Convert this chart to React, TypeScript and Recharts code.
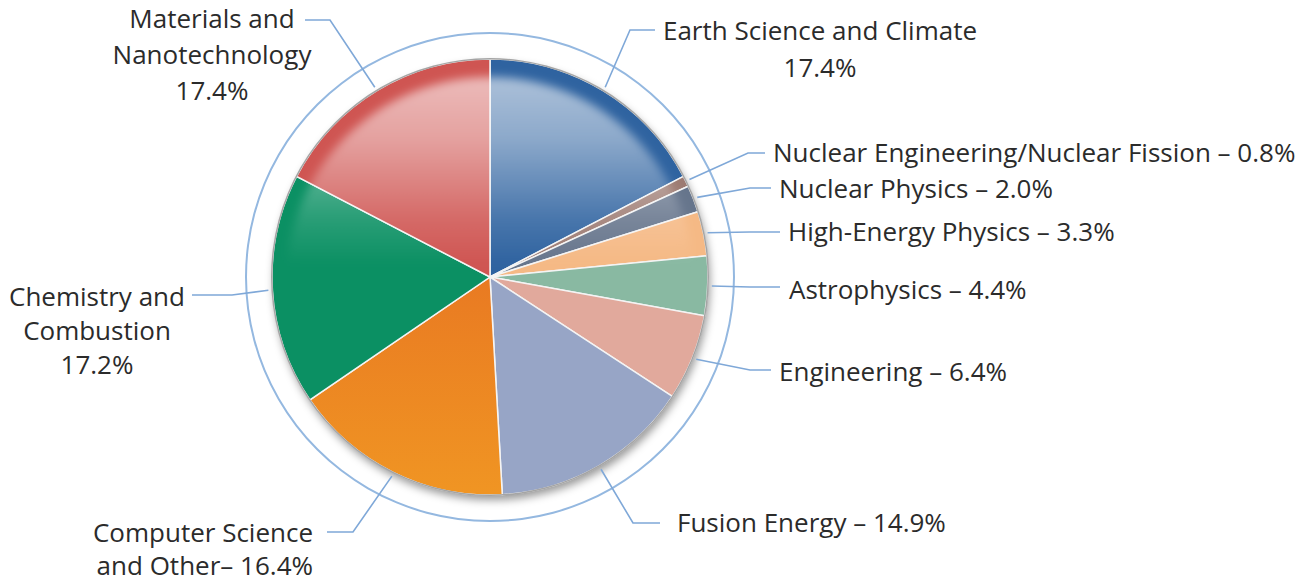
import React from "react";
import { PieChart, Pie, Cell } from "recharts";

// shares of allocation, clockwise from 12 o'clock
const names = [
  "Earth Science and Climate",
  "Nuclear Engineering/Nuclear Fission",
  "Nuclear Physics",
  "High-Energy Physics",
  "Astrophysics",
  "Engineering",
  "Fusion Energy",
  "Computer Science and Other",
  "Chemistry and Combustion",
  "Materials and Nanotechnology",
];
const shares = [17.4, 0.8, 2.0, 3.3, 4.4, 6.4, 14.9, 16.4, 17.2, 17.4];
const labelText: string[][] = [
  ["Earth Science and Climate", "17.4%"],
  ["Nuclear Engineering/Nuclear Fission – 0.8%"],
  ["Nuclear Physics – 2.0%"],
  ["High-Energy Physics – 3.3%"],
  ["Astrophysics – 4.4%"],
  ["Engineering – 6.4%"],
  ["Fusion Energy – 14.9%"],
  ["Computer Science", "and Other– 16.4%"],
  ["Chemistry and", "Combustion", "17.2%"],
  ["Materials and", "Nanotechnology", "17.4%"],
];

const COLORS = [
  "#2f63a0", "#9d7b72", "#66758c", "#f5b985", "#89b9a2",
  "#e1a99c", "#97a5c6", "url(#orangeGrad)", "#0b9063", "#cf5552",
];

// label placement, offsets from pie centre: elbow, end of the flat part, text anchor
const labelPos = [
  { ex: 140, ey: -247, hx: 165, tx: 330, ty: -247, dy: 37, anchor: "middle" },
  { ex: 258, ey: -124, hx: 275, tx: 283, ty: -125, dy: 35, anchor: "start" },
  { ex: 260, ey: -89, hx: 281, tx: 289, ty: -89, dy: 35, anchor: "start" },
  { ex: 260, ey: -45, hx: 290, tx: 298, ty: -46, dy: 35, anchor: "start" },
  { ex: 260, ey: 10, hx: 290, tx: 299, ty: 12, dy: 35, anchor: "start" },
  { ex: 260, ey: 93, hx: 281, tx: 289, ty: 94, dy: 35, anchor: "start" },
  { ex: 143, ey: 246, hx: 170, tx: 187, ty: 245, dy: 35, anchor: "start" },
  { ex: -137, ey: 255, hx: -163, tx: -177, ty: 255, dy: 33, anchor: "end" },
  { ex: -258, ey: 18, hx: -298, tx: -393, ty: 19, dy: 34, anchor: "middle" },
  { ex: -160, ey: -257, hx: -185, tx: -278, ty: -259, dy: 36, anchor: "middle" },
];

const data = names.map((name, i) => ({ name, value: shares[i] }));
const whole = [{ name: "all", value: 1 }];

const RADIAN = Math.PI / 180;
const CX = 490;
const CY = 277;
const R = 218;

const renderLabel = (props: any) => {
  const { cx, cy, midAngle, outerRadius, index } = props;
  const p = labelPos[index];
  const r = outerRadius + 4;
  const sx = cx + r * Math.cos(-midAngle * RADIAN);
  const sy = cy + r * Math.sin(-midAngle * RADIAN);
  const lines = labelText[index];
  return (
    <g key={`lbl-${index}`}>
      <polyline
        points={`${sx},${sy} ${cx + p.ex},${cy + p.ey} ${cx + p.hx},${cy + p.ey}`}
        fill="none"
        stroke="#7fa8d8"
        strokeWidth={1.6}
      />
      <text
        x={cx + p.tx}
        y={cy + p.ty}
        textAnchor={p.anchor as any}
        dominantBaseline="central"
        fill="#2b2b2b"
        fontFamily="'Open Sans', sans-serif"
        fontSize={26}
      >
        {lines.map((t, j) => (
          <tspan key={j} x={cx + p.tx} dy={j === 0 ? 0 : p.dy}>
            {t}
          </tspan>
        ))}
      </text>
    </g>
  );
};

export default function App() {
  return (
    <div style={{ position: "absolute", left: 0, top: 0, background: "#fff" }}>
      <PieChart width={1310} height={582} margin={{ top: 0, right: 0, bottom: 0, left: 0 }}>
        <defs>
          <linearGradient id="orangeGrad" x1="0" y1="0" x2="0" y2="1">
            <stop offset="0%" stopColor="#e97a22" />
            <stop offset="100%" stopColor="#f09523" />
          </linearGradient>
          <linearGradient id="gloss" x1="0" y1="0" x2="0" y2="1">
            <stop offset="0%" stopColor="#fff" stopOpacity={0.6} />
            <stop offset="15%" stopColor="#fff" stopOpacity={0.45} />
            <stop offset="35%" stopColor="#fff" stopOpacity={0.12} />
            <stop offset="46%" stopColor="#fff" stopOpacity={0} />
          </linearGradient>
          <filter id="soft" x="-20%" y="-20%" width="140%" height="140%">
            <feGaussianBlur stdDeviation="5" />
          </filter>
          <filter id="shadow" x="-20%" y="-20%" width="140%" height="140%">
            <feGaussianBlur stdDeviation="4" />
          </filter>
        </defs>
        {/* outer thin ring */}
        <Pie
          data={whole}
          dataKey="value"
          cx={CX}
          cy={CY}
          innerRadius={243}
          outerRadius={245}
          stroke="none"
          fill="#94b8e0"
          isAnimationActive={false}
        />
        {/* drop shadow */}
        <Pie
          data={whole}
          dataKey="value"
          cx={CX + 2}
          cy={CY + 5}
          outerRadius={R}
          stroke="none"
          isAnimationActive={false}
        >
          <Cell fill="#000" fillOpacity={0.4} filter="url(#shadow)" />
        </Pie>
        <Pie
          data={data}
          dataKey="value"
          nameKey="name"
          cx={CX}
          cy={CY}
          outerRadius={R}
          startAngle={90}
          endAngle={-270}
          label={renderLabel}
          labelLine={false}
          isAnimationActive={false}
        >
          {data.map((entry, index) => (
            <Cell key={`cell-${index}`} fill={COLORS[index]} stroke="#f4f4f4" strokeWidth={1.5} />
          ))}
        </Pie>
        {/* glossy highlight */}
        <Pie
          data={whole}
          dataKey="value"
          cx={CX}
          cy={CY + 4}
          outerRadius={R - 14}
          stroke="none"
          isAnimationActive={false}
        >
          <Cell fill="url(#gloss)" filter="url(#soft)" />
        </Pie>
        {/* grey rim */}
        <Pie
          data={whole}
          dataKey="value"
          cx={CX}
          cy={CY}
          innerRadius={R - 0.5}
          outerRadius={R + 1}
          stroke="none"
          fill="#a5a5a5"
          isAnimationActive={false}
        />
      </PieChart>
    </div>
  );
}
